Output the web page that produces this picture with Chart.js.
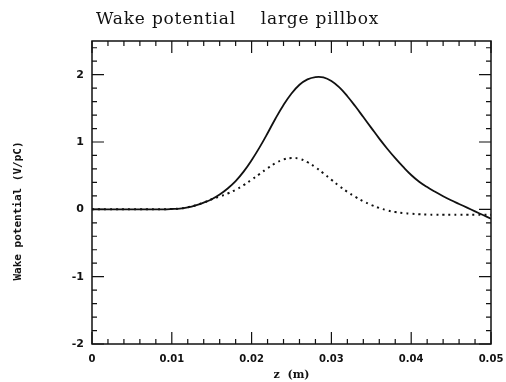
<!DOCTYPE html>
<html>
<head>
<meta charset="utf-8">
<script src="https://cdn.jsdelivr.net/npm/chart.js@4.4.0/dist/chart.umd.min.js"></script>
<style>
html,body{margin:0;padding:0;background:#fff;}
#wrap{width:506px;height:382px;position:relative;}
</style>
</head>
<body>
<div id="wrap"><canvas id="c" width="506" height="382"></canvas></div>
<script>
const titleText = "Wake potential    large pillbox";
const xTitle = "z  (m)";
const yTitle = "Wake potential (V/pC)";
const zValues = [0,0.001,0.002,0.003,0.004,0.005,0.006,0.007,0.008,0.009,0.010,0.011,0.012,0.013,0.014,0.015,0.016,0.017,0.018,0.019,0.020,0.021,0.022,0.023,0.024,0.025,0.026,0.027,0.028,0.029,0.030,0.031,0.032,0.033,0.034,0.035,0.036,0.037,0.038,0.039,0.040,0.041,0.042,0.043,0.044,0.045,0.046,0.047,0.048,0.049,0.050];
const solidValues = [0,0,0,0,0,0,0,0,0,0,0.005,0.012,0.03,0.06,0.10,0.15,0.22,0.31,0.42,0.56,0.73,0.92,1.13,1.35,1.55,1.72,1.85,1.93,1.965,1.96,1.905,1.81,1.68,1.53,1.37,1.21,1.05,0.90,0.76,0.63,0.51,0.41,0.33,0.26,0.195,0.135,0.08,0.025,-0.03,-0.085,-0.14];
const dottedValues = [0,0,0,0,0,0,0,0,0,0,0.005,0.012,0.03,0.06,0.10,0.15,0.19,0.235,0.29,0.36,0.44,0.525,0.61,0.685,0.74,0.762,0.75,0.70,0.625,0.535,0.44,0.345,0.26,0.185,0.12,0.065,0.02,-0.015,-0.04,-0.055,-0.065,-0.072,-0.077,-0.08,-0.08,-0.08,-0.08,-0.08,-0.08,-0.08,-0.08];
const xMajorTicks = [0,0.01,0.02,0.03,0.04,0.05];
const yMajorTicks = [-2,-1,0,1,2];

const solidData = zValues.map((z,i)=>({x:z,y:solidValues[i]}));
const dottedData = zValues.map((z,i)=>({x:z,y:dottedValues[i]}));

const framePlugin = {
  id:'frame',
  afterDraw(chart){
    const {ctx, chartArea:a, scales:{x,y}} = chart;
    ctx.save();
    ctx.strokeStyle='#111';
    ctx.lineWidth=1.5;
    ctx.strokeRect(a.left,a.top,a.right-a.left,a.bottom-a.top);
    ctx.lineWidth=1.2;
    ctx.beginPath();
    for(let k=0;k<=25;k++){
      const v=k*0.002;
      const px=x.getPixelForValue(v);
      const len=(k%5===0)?12:5;
      ctx.moveTo(px,a.bottom);ctx.lineTo(px,a.bottom-len);
      ctx.moveTo(px,a.top);ctx.lineTo(px,a.top+len);
    }
    for(let k=-10;k<=12;k++){
      const v=k*0.2;
      const py=y.getPixelForValue(v);
      const len=(k%5===0)?12:5;
      ctx.moveTo(a.left,py);ctx.lineTo(a.left+len,py);
      ctx.moveTo(a.right,py);ctx.lineTo(a.right-len,py);
    }
    ctx.stroke();
    ctx.fillStyle='#111';
    ctx.font='17px "DejaVu Serif"';
    ctx.letterSpacing='0.8px';
    ctx.textBaseline='middle';
    ctx.textAlign='left';
    ctx.fillText(titleText, a.left+4, 20);
    ctx.letterSpacing='0px';
    ctx.font='bold 11px "DejaVu Sans Mono"';
    ctx.translate(18,211);
    ctx.rotate(-Math.PI/2);
    ctx.textAlign='center';
    ctx.fillText(yTitle,0,0);
    ctx.restore();
  }
};

new Chart(document.getElementById('c'),{
  type:'line',
  data:{datasets:[
    {data:solidData,borderColor:'#111',borderWidth:1.8,pointRadius:0,tension:0.4,fill:false},
    {data:dottedData,borderColor:'#111',borderWidth:2,borderDash:[2,4],pointRadius:0,tension:0.4,fill:false}
  ]},
  options:{
    responsive:false,animation:false,
    layout:{padding:{left:0,right:15,top:41,bottom:0}},
    plugins:{legend:{display:false},tooltip:{enabled:false}},
    scales:{
      x:{type:'linear',min:0,max:0.05,
        afterBuildTicks(s){s.ticks=xMajorTicks.map(v=>({value:v}));},
        afterFit(s){s.height=38;s.paddingLeft=0;s.paddingRight=0;},
        grid:{display:false,drawTicks:false},border:{display:false},
        ticks:{color:'#111',font:{family:'DejaVu Sans',size:10,weight:'bold'},padding:9,maxRotation:0,
          callback:(v)=>v===0?'0':String(Number(v.toFixed(2)))},
        title:{display:true,text:xTitle,color:'#111',font:{family:'DejaVu Serif',size:11,weight:'bold'},padding:{top:1,bottom:0}}
      },
      y:{type:'linear',min:-2,max:2.5,
        afterBuildTicks(s){s.ticks=yMajorTicks.map(v=>({value:v}));},
        afterFit(s){s.width=92;s.paddingTop=0;s.paddingBottom=0;},
        grid:{display:false,drawTicks:false},border:{display:false},
        ticks:{color:'#111',font:{family:'DejaVu Sans',size:11,weight:'bold'},padding:8},
        title:{display:false}
      }
    }
  },
  plugins:[framePlugin]
});
</script>
</body>
</html>
